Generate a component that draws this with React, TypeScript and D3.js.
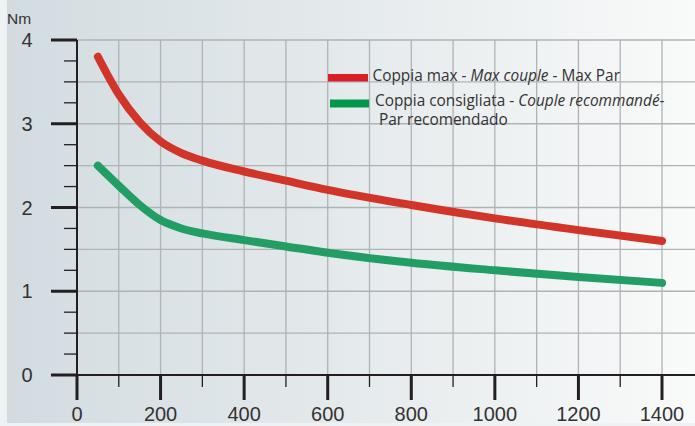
import React from "react";
import * as d3 from "d3";

const speeds = [50, 100, 150, 200, 250, 300, 400, 500, 600, 800, 1000, 1200, 1400];
const maxTorque = [3.8, 3.35, 3.02, 2.79, 2.65, 2.56, 2.43, 2.32, 2.21, 2.03, 1.87, 1.73, 1.6];
const recTorque = [2.5, 2.26, 2.03, 1.85, 1.75, 1.69, 1.61, 1.535, 1.46, 1.34, 1.25, 1.17, 1.1];
const xTicks = [0, 200, 400, 600, 800, 1000, 1200, 1400];
const yTicks = [0, 1, 2, 3, 4];
const yUnit = "Nm";

const W = 695;
const H = 426;

export default function App() {
  const x = d3.scaleLinear().domain([0, 1400]).range([77, 662]);
  const y = d3.scaleLinear().domain([0, 4]).range([375, 40]);
  const line = d3
    .line<number>()
    .x((_, i) => x(speeds[i]))
    .y((d) => y(d))
    .curve(d3.curveMonotoneX);

  const xGrid = d3.range(100, 1401, 100);
  const xMinor = d3.range(100, 1400, 200);
  const yGrid = d3.range(0.5, 4.01, 0.5);
  const yMinor = d3.range(0.25, 4, 0.25).filter((v) => Math.abs(v - Math.round(v)) > 0.01);

  const tickFont = "'Liberation Sans', Arial, sans-serif";
  const legFont = "'Open Sans', 'Noto Sans', sans-serif";

  return (
    <svg
      width={W}
      height={H}
      style={{ position: "fixed", left: 0, top: 0, display: "block" }}
    >
      <defs>
        <linearGradient id="bg" x1="0" x2="1" y1="0" y2="0">
          <stop offset="0" stopColor="#d2dce0" />
          <stop offset="0.5" stopColor="#e5eaec" />
          <stop offset="1" stopColor="#f9fafa" />
        </linearGradient>
      </defs>
      <rect x={0} y={0} width={W} height={H} fill="#eef2f3" />
      <rect x={7} y={0} width={W - 7} height={423} fill="url(#bg)" />

      {/* grid */}
      {yGrid.map((v) => (
        <line key={"hg" + v} x1={x(0)} x2={W} y1={y(v)} y2={y(v)} stroke="#aeb3b6" strokeWidth={1.3} />
      ))}
      {xGrid.map((v) => (
        <line key={"vg" + v} x1={x(v)} x2={x(v)} y1={y(4)} y2={y(0)} stroke="#aeb3b6" strokeWidth={1.3} />
      ))}

      {/* axes */}
      <line x1={x(0)} x2={x(0)} y1={y(4)} y2={y(0)} stroke="#231f20" strokeWidth={2} />
      <line x1={51} x2={W} y1={y(0)} y2={y(0)} stroke="#231f20" strokeWidth={2} />
      {yTicks.map((v) => (
        <line key={"ym" + v} x1={51} x2={x(0)} y1={y(v)} y2={y(v)} stroke="#231f20" strokeWidth={3} />
      ))}
      {yMinor.map((v) => (
        <line key={"yn" + v} x1={64} x2={x(0)} y1={y(v)} y2={y(v)} stroke="#231f20" strokeWidth={1.3} />
      ))}
      {xTicks.map((v) => (
        <line key={"xm" + v} x1={x(v)} x2={x(v)} y1={y(0)} y2={400} stroke="#231f20" strokeWidth={3} />
      ))}
      {xMinor.map((v) => (
        <line key={"xn" + v} x1={x(v)} x2={x(v)} y1={y(0)} y2={387} stroke="#231f20" strokeWidth={1.3} />
      ))}

      {/* tick labels */}
      {yTicks.map((v) => (
        <text key={"yl" + v} x={27} y={y(v) + 7} textAnchor="middle" fontFamily={tickFont} fontSize={20} fill="#333">
          {v}
        </text>
      ))}
      {xTicks.map((v) => (
        <text key={"xl" + v} x={x(v)} y={421} textAnchor="middle" fontFamily={tickFont} fontSize={20} fill="#333">
          {v}
        </text>
      ))}
      <text x={7} y={24} fontFamily={tickFont} fontSize={15.5} fill="#333">{yUnit}</text>

      {/* curves */}
      <path d={line(maxTorque) || ""} fill="none" stroke="#d13529" strokeWidth={8} strokeLinecap="round" />
      <path d={line(recTorque) || ""} fill="none" stroke="#229e64" strokeWidth={8} strokeLinecap="round" />

      {/* legend */}
      <rect x={328} y={74} width={40} height={7.5} fill="#d81f26" />
      <rect x={330} y={99.5} width={39} height={8} fill="#00994c" />
      <text x={372.5} y={80.5} fontFamily={legFont} fontSize={15.4} fill="#333">
        <tspan>Coppia max - </tspan>
        <tspan fontStyle="italic">Max couple</tspan>
        <tspan> - Max Par</tspan>
      </text>
      <text x={375} y={106} fontFamily={legFont} fontSize={15.4} fill="#333">
        <tspan>Coppia consigliata - </tspan>
        <tspan fontStyle="italic">Couple recommandé</tspan>
        <tspan>-</tspan>
      </text>
      <text x={379} y={125} fontFamily={legFont} fontSize={15.4} fill="#333">
        Par recomendado
      </text>
    </svg>
  );
}
